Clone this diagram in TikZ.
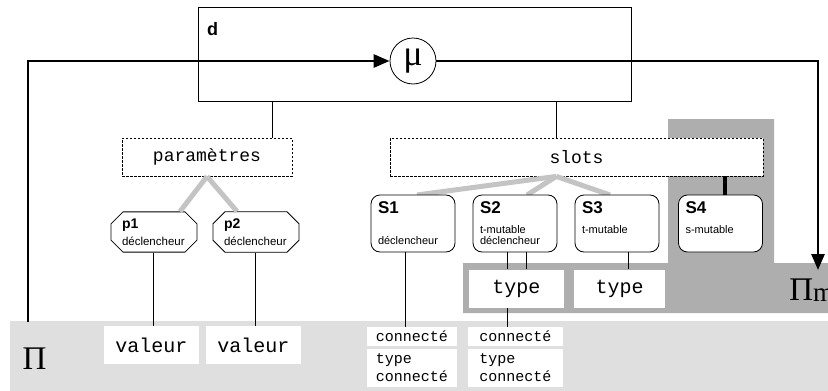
\documentclass[tikz,border=0pt]{standalone}
\usepackage{fontspec}
\setmainfont{Liberation Sans}
\setmonofont{Liberation Mono}
\newfontfamily\symserif{Liberation Serif}
\usepackage{tikz}
\usetikzlibrary{arrows.meta,positioning,calc,shapes.misc}
\definecolor{lightbg}{HTML}{DFDFDF}
\definecolor{darkbg}{HTML}{AEAEAE}
\definecolor{treecol}{HTML}{C4C4C4}
\newcommand{\stitle}[1]{{\fontsize{17}{17}\selectfont\bfseries #1}}
\newcommand{\ptitle}[1]{{\fontsize{14}{14}\selectfont\bfseries #1}}

\begin{document}
\begin{tikzpicture}[x=1pt,y=-1pt,>={Triangle[length=16pt,width=13pt]},
  every node/.style={line width=0.8pt},
  link/.style={line width=0.8pt},
  flow/.style={line width=2.8pt},
  tree/.style={treecol,line width=5pt},
  group/.style={draw,fill=white,dash pattern=on 2.5pt off 1.5pt,minimum height=38pt,font=\ttfamily\fontsize{18}{18}\selectfont},
  param/.style={draw,fill=white,chamfered rectangle,chamfered rectangle xsep=6pt,chamfered rectangle ysep=6pt,
    minimum width=86pt,minimum height=38pt,inner sep=1pt,text width=64pt,align=left,font=\fontsize{11.5}{11.5}\selectfont},
  slot/.style={draw,fill=white,rounded corners=9pt,minimum height=57pt,text width=70pt,inner xsep=7pt,
    align=left,font=\fontsize{11}{11}\selectfont},
  valbox/.style={fill=white,minimum height=38pt,inner sep=0pt,font=\ttfamily\fontsize{20}{20}\selectfont},
  conbox/.style={fill=white,inner sep=0pt,align=left,font=\ttfamily\fontsize{15}{18}\selectfont},
  pitext/.style={inner sep=0pt,font=\symserif\fontsize{33}{33}\selectfont}]
  \clip (0,0) rectangle (828,391);
  % backgrounds
  \fill[lightbg] (10,321) rectangle (828,391);
  \fill[darkbg] (668,119) rectangle (774,263) (463,263) rectangle (828,313);
  \node[pitext] (pi) at (34.5,359) {Π};
  \node[pitext,anchor=west] (pim) at (789,290) {Π\raisebox{-1pt}{\fontsize{27}{27}\selectfont m}};

  \node[draw,minimum width=433pt,minimum height=94pt] (dbox) at (414.5,54) {};
  \node[anchor=north west,inner sep=0pt,font=\fontsize{18}{18}\selectfont\bfseries] (dname)
    at ([shift={(9,15)}]dbox.north west) {d};
  \node[draw,circle,fill=white,minimum size=46pt,inner sep=0pt,font=\symserif\fontsize{36}{36}\selectfont] (mu) at (413,61) {μ};
  \coordinate (piin) at (28,322);
  \coordinate (pimout) at (818,270);
  \draw[flow,->] (piin) |- (mu.west);
  \draw[flow,->] (mu.east) -| (pimout);

  \node[group,minimum width=170pt] (params) at (207,157) {paramètres};
  \node[group,minimum width=373pt] (slots) at (576.5,157) {slots};
  \coordinate (pd) at ($(dbox.south west)!.173!(dbox.south east)$);
  \coordinate (sd) at ($(dbox.south west)!.827!(dbox.south east)$);
  \draw[link] (pd) -- (pd |- params.north);
  \draw[link] (sd) -- (sd |- slots.north);

  % parametres
  \node[param] (p1) at (154,232) {\ptitle{p1}\\[5pt]déclencheur};
  \node[param] (p2) at (256,232) {\ptitle{p2}\\[5pt]déclencheur};
  \draw[tree] (params.south) -- ([xshift=26pt]p1.north);
  \draw[tree] (params.south) -- ([xshift=-19pt]p2.north);
  \node[valbox,minimum width=95pt] (v1) at (151.5,345) {valeur};
  \node[valbox,minimum width=95pt] (v2) at (253.5,345) {valeur};
  \draw[link] ([xshift=-1pt]p1.south) -- ([xshift=-1pt]p1.south |- v1.north);
  \draw[link] ([xshift=-1pt]p2.south) -- ([xshift=-1pt]p2.south |- v2.north);

  % slots
  \coordinate (sa) at (sd |- slots.south);
  \draw[tree] (sa) -- (417,195);
  \draw[tree] (sa) -- (527,195);
  \draw[tree] (sa) -- (610,195);
  \node[slot] (s1) at (413,223.5) {\stitle{S1}\\[9pt]\mbox{}\\déclencheur};
  \node[slot] (s2) at (515,223.5) {\stitle{S2}\\[9pt]t-mutable\\déclencheur};
  \node[slot] (s3) at (617,223.5) {\stitle{S3}\\[9pt]t-mutable\\\mbox{}};
  \node[slot] (s4) at (720.5,223.5) {\stitle{S4}\\[9pt]s-mutable\\\mbox{}};
  \draw[line width=4pt] ([xshift=4.5pt]s4.north) -- ([xshift=4.5pt]s4.north |- slots.south);

  \node[valbox,minimum width=95pt] (t1) at (516.5,288.5) {type};
  \node[valbox,minimum width=91pt] (t2) at (619.5,288.5) {type};
  \draw[link] ([xshift=-8pt]s2.south) -- ([xshift=-8pt]s2.south |- t1.north);
  \draw[link] ([xshift=11pt]s2.south) -- ([xshift=11pt]s2.south |- t1.north);
  \draw[link] ([xshift=11pt]s3.south) -- ([xshift=11pt]s3.south |- t2.north);

  \node[conbox,minimum width=90pt,minimum height=19pt] (c1a) at (412,336.5) {connecté};
  \node[conbox,minimum width=90pt,minimum height=38pt] (c1b) at (412,368) {type\\connecté};
  \node[conbox,minimum width=95pt,minimum height=19pt] (c2a) at (515.5,336.5) {connecté};
  \node[conbox,minimum width=95pt,minimum height=38pt] (c2b) at (515.5,368) {type\\connecté};
  \draw[link] ([xshift=-8pt]s1.south) -- ([xshift=-8pt]s1.south |- c1a.north);
  \draw[link] ([xshift=-9.5pt]t1.south) -- ([xshift=-9.5pt]t1.south |- c2a.north);
\end{tikzpicture}
\end{document}
